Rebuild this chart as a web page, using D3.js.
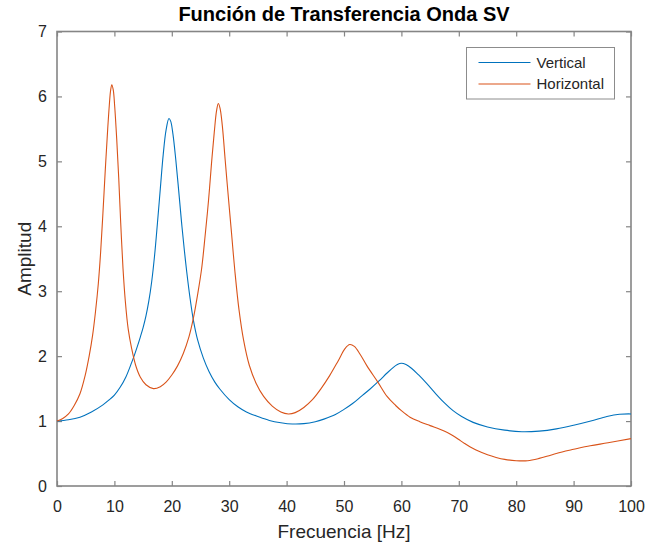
<!DOCTYPE html>
<html>
<head>
<meta charset="utf-8">
<script src="https://cdn.jsdelivr.net/npm/d3@7"></script>
<style>
    body { margin: 0; background: #fff; }
    svg { display: block; }
    text { font-family: "Liberation Sans", Arial, sans-serif; fill: #262626; }
</style>
</head>
<body>
<svg width="646" height="546"></svg>
<script>
"use strict"

const vertFreq = [0, 2, 4, 6, 8, 9, 10, 11, 12, 13, 13.5, 14, 14.5, 15, 15.5, 16, 16.5, 17, 17.5, 18, 18.5, 19,
    19.5, 19.8, 20.2, 20.7, 21.2, 21.7, 22.2, 22.6, 23.2, 23.75, 24.5, 25.5, 26.5, 27.5, 28.4, 30, 31.5, 33, 35,
    37, 39, 41, 43, 45, 46.5, 48.5, 50, 51.5, 53, 54.5, 56, 57.5, 58.5, 59.3, 60, 60.8, 61.8, 63, 64.4,
    66, 67.5, 69, 70.5, 72.5, 75, 78, 81, 84, 87, 90, 93, 95.8, 98, 100]
const vertAmp = [1.00, 1.02, 1.06, 1.14, 1.25, 1.32, 1.40, 1.52, 1.68, 1.90, 2.02, 2.15, 2.29, 2.44, 2.62, 2.85, 3.15, 3.55, 4.05, 4.58, 5.10, 5.48,
    5.66, 5.62, 5.42, 5.02, 4.55, 4.06, 3.62, 3.30, 2.88, 2.56, 2.25, 1.97, 1.76, 1.60, 1.49, 1.33, 1.22, 1.14, 1.07,
    1.01, 0.975, 0.955, 0.96, 0.99, 1.03, 1.10, 1.18, 1.27, 1.38, 1.49, 1.61, 1.74, 1.82, 1.87, 1.89, 1.87, 1.81, 1.71, 1.58,
    1.42, 1.28, 1.16, 1.07, 0.98, 0.91, 0.86, 0.835, 0.845, 0.88, 0.935, 1.00, 1.07, 1.105, 1.11]

const horzFreq = [0, 1, 2, 3, 4, 4.9, 5.6, 6.2, 6.7, 7.2, 7.6, 8, 8.4, 8.8, 9.1, 9.35, 9.55, 9.8, 10.05, 10.4,
    10.75, 11.1, 11.5, 11.9, 12.4, 13, 13.7, 14.5, 15.5, 16.8, 18, 19, 20, 21, 22, 23, 23.75, 24.5, 25.2, 25.8,
    26.4, 26.9, 27.4, 27.8, 28.1, 28.4, 28.8, 29.3, 29.85, 30.4, 31, 31.7, 32.5, 33.5, 34.7, 36, 37.5, 39, 40.3, 41.5,
    43, 44.5, 46, 47.5, 49, 50.2, 51, 51.8, 52.8, 54, 55.9, 57.5, 59, 60, 61.5, 63.2, 65, 66.7, 68, 69,
    70, 71, 72, 73, 74, 75, 76.5, 78, 80, 82, 84, 86, 88, 90, 92.9, 96, 100]
const horzAmp = [1.00, 1.04, 1.11, 1.24, 1.42, 1.70, 2.00, 2.32, 2.68, 3.12, 3.60, 4.20, 4.85, 5.45, 5.85, 6.10, 6.18, 6.10, 5.85, 5.35,
    4.75, 4.05, 3.35, 2.85, 2.42, 2.12, 1.86, 1.68, 1.56, 1.50, 1.53, 1.60, 1.71, 1.85, 2.04, 2.30, 2.58, 2.95, 3.35, 3.85,
    4.40, 4.95, 5.45, 5.78, 5.89, 5.82, 5.55, 5.02, 4.45, 3.90, 3.30, 2.72, 2.25, 1.86, 1.58, 1.38, 1.23, 1.14, 1.11, 1.13,
    1.21, 1.33, 1.50, 1.70, 1.93, 2.12, 2.18, 2.15, 2.03, 1.85, 1.60, 1.38, 1.24, 1.16, 1.06, 0.99, 0.93, 0.875, 0.825, 0.775,
    0.715, 0.655, 0.60, 0.555, 0.515, 0.48, 0.44, 0.41, 0.39, 0.39, 0.425, 0.475, 0.525, 0.565, 0.62, 0.665, 0.73]

const xTicks = [0, 10, 20, 30, 40, 50, 60, 70, 80, 90, 100]
const yTicks = [0, 1, 2, 3, 4, 5, 6, 7]
const seriesNames = ["Vertical", "Horizontal"]
const seriesColors = ["#0072BD", "#D95319"]

const LEFT = 57
const RIGHT = 631
const TOP = 31.5
const BOTTOM = 486
const AXIS_COLOR = "#858585"

const svg = d3.select("svg")

const x = d3.scaleLinear().domain([0, 100]).range([LEFT, RIGHT])
const y = d3.scaleLinear().domain([0, 7]).range([BOTTOM, TOP])

const styleAxis = (g) => {
    g.selectAll(".domain").remove()
    g.selectAll(".tick line").attr("stroke", AXIS_COLOR).attr("stroke-width", 1.2)
    g.selectAll(".tick text")
        .style("font-size", "16px")
        .style("font-family", "\"Liberation Sans\", Arial, sans-serif")
        .attr("fill", "#262626")
}

svg.append("g")
    .attr("transform", `translate(0,${BOTTOM})`)
    .call(d3.axisBottom(x).tickValues(xTicks).tickSize(-5).tickPadding(14.5).tickFormat(d3.format("d")))
    .call(styleAxis)

svg.append("g")
    .attr("transform", `translate(0,${TOP})`)
    .call(d3.axisTop(x).tickValues(xTicks).tickSize(-5).tickFormat(""))
    .call(styleAxis)

svg.append("g")
    .attr("transform", `translate(${LEFT},0)`)
    .call(d3.axisLeft(y).tickValues(yTicks).tickSize(-5).tickPadding(10).tickFormat(d3.format("d")))
    .call(styleAxis)

svg.append("g")
    .attr("transform", `translate(${RIGHT},0)`)
    .call(d3.axisRight(y).tickValues(yTicks).tickSize(-5).tickFormat(""))
    .call(styleAxis)

// box round the plot area
svg.append("rect")
    .attr("x", LEFT)
    .attr("y", TOP)
    .attr("width", RIGHT - LEFT)
    .attr("height", BOTTOM - TOP)
    .attr("fill", "none")
    .attr("stroke", AXIS_COLOR)
    .attr("stroke-width", 1.6)

const line = d3.line()
    .x((d) => x(d[0]))
    .y((d) => y(d[1]))
    .curve(d3.curveCatmullRom.alpha(0.5))

const series = [
    d3.zip(vertFreq, vertAmp),
    d3.zip(horzFreq, horzAmp)
]

series.forEach((points, i) => {
    svg.append("path")
        .datum(points)
        .attr("fill", "none")
        .attr("stroke", seriesColors[i])
        .attr("stroke-width", 1.1)
        .attr("d", line)
})

svg.append("text")
    .attr("x", (LEFT + RIGHT) / 2)
    .attr("y", 21)
    .attr("text-anchor", "middle")
    .style("font-size", "20px")
    .style("font-weight", "bold")
    .style("fill", "#000")
    .text("Función de Transferencia Onda SV")

svg.append("text")
    .attr("x", (LEFT + RIGHT) / 2)
    .attr("y", 538)
    .attr("text-anchor", "middle")
    .style("font-size", "19px")
    .text("Frecuencia [Hz]")

svg.append("text")
    .attr("transform", `translate(31,${(TOP + BOTTOM) / 2}) rotate(-90)`)
    .attr("text-anchor", "middle")
    .style("font-size", "19px")
    .text("Amplitud")

// legend
const legend = svg.append("g").attr("transform", "translate(466.5,47.5)")

legend.append("rect")
    .attr("width", 148)
    .attr("height", 51.5)
    .attr("fill", "#fff")
    .attr("stroke", "#8c8c8c")
    .attr("stroke-width", 1)

seriesNames.forEach((name, i) => {
    const rowY = 15 + i * 21.5
    legend.append("line")
        .attr("x1", 12)
        .attr("x2", 64)
        .attr("y1", rowY)
        .attr("y2", rowY)
        .attr("stroke", seriesColors[i])
        .attr("stroke-width", 1.1)
    legend.append("text")
        .attr("x", 70)
        .attr("y", rowY)
        .attr("dy", "0.35em")
        .style("font-size", "15px")
        .text(name)
})
</script>
</body>
</html>
